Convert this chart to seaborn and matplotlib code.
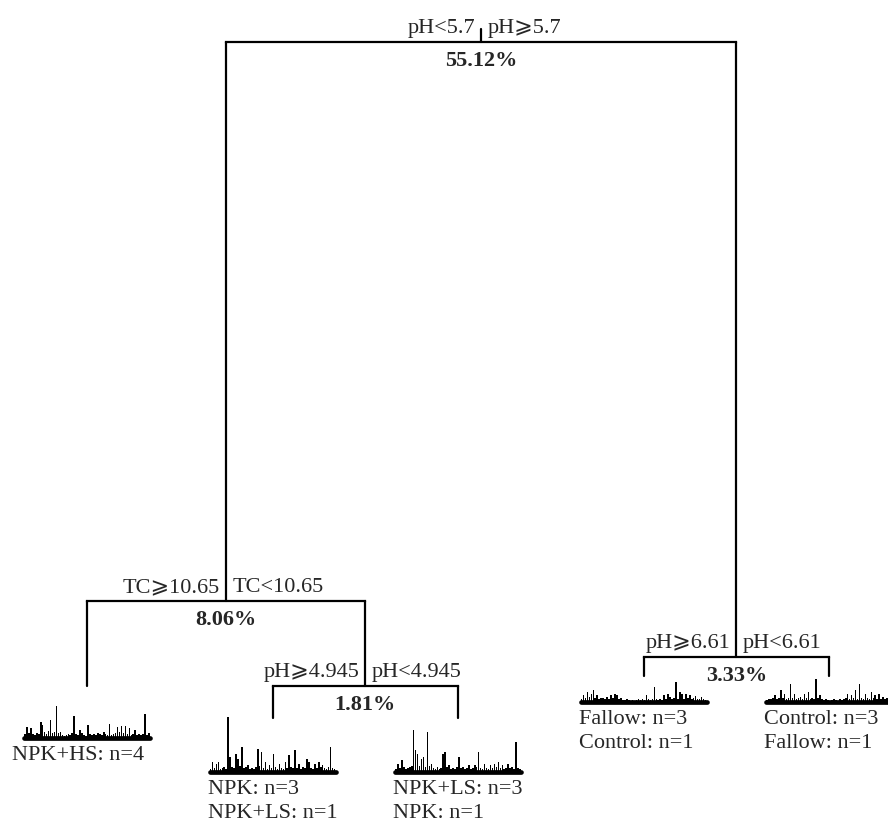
import matplotlib
matplotlib.use("Agg")
import matplotlib.pyplot as plt
import seaborn as sns
import numpy as np

# split rules (left branch / right branch) and explained variance per split
split_left = ["pH<5.7", "TC\u2A7E10.65", "pH\u2A7E4.945", "pH\u2A7E6.61"]
split_right = ["pH\u2A7E5.7", "TC<10.65", "pH<4.945", "pH<6.61"]
split_pct = [55.12, 8.06, 1.81, 3.33]
# relative error of each split node (root = 1)
node_error = [1.0, 0.2614, 0.1490, 0.1874]

# leaf labels
leaf_text = [
    ["NPK+HS: n=4"],
    ["NPK: n=3", "NPK+LS: n=1"],
    ["NPK+LS: n=3", "NPK: n=1"],
    ["Fallow: n=3", "Control: n=1"],
    ["Control: n=3", "Fallow: n=1"],
]

# species profiles under each leaf
prof_npk_hs = [4, 11, 5, 10, 4, 3, 5, 4, 16, 13, 6, 4, 7, 18, 5, 6,
               32, 5, 6, 3, 2, 3, 4, 3, 5, 22, 4, 3, 8, 5, 3, 2,
               13, 4, 3, 4, 3, 5, 4, 3, 6, 4, 3, 14, 3, 4, 5, 11,
               6, 12, 5, 12, 4, 10, 3, 4, 8, 3, 4, 3, 4, 24, 3, 5]
prof_npk = [3, 10, 4, 8, 10, 3, 4, 5, 3, 55, 15, 5, 4, 18, 13, 6,
            25, 4, 5, 7, 3, 4, 3, 5, 23, 6, 20, 4, 10, 3, 7, 4,
            18, 5, 3, 8, 4, 3, 10, 4, 17, 5, 4, 22, 4, 8, 3, 5,
            4, 13, 10, 4, 3, 8, 4, 10, 5, 7, 4, 3, 5, 25, 4, 3]
prof_npk_ls = [3, 8, 4, 12, 5, 3, 4, 5, 6, 42, 22, 18, 6, 13, 15, 5,
               40, 6, 8, 4, 3, 5, 3, 4, 18, 20, 5, 7, 3, 4, 3, 5,
               15, 4, 5, 3, 4, 7, 3, 4, 7, 5, 20, 4, 3, 8, 4, 3,
               7, 4, 8, 5, 10, 4, 7, 3, 4, 8, 4, 5, 3, 30, 4, 3]
prof_fallow = [3, 7, 4, 10, 5, 8, 12, 4, 7, 3, 4, 4, 3, 5, 3, 7,
               4, 8, 7, 3, 4, 2, 2, 3, 2, 1, 2, 1, 2, 3, 2, 3,
               2, 7, 3, 2, 3, 15, 3, 2, 3, 2, 7, 3, 8, 5, 3, 4,
               20, 3, 10, 8, 3, 8, 4, 7, 3, 4, 6, 3, 3, 5, 3, 2]
prof_control = [2, 3, 3, 4, 7, 3, 4, 12, 4, 8, 3, 4, 18, 4, 8, 3,
                4, 5, 3, 8, 4, 10, 3, 4, 3, 23, 4, 7, 3, 2, 3, 2,
                1, 2, 3, 2, 1, 3, 2, 3, 4, 8, 3, 7, 4, 12, 3, 18,
                4, 3, 8, 4, 3, 10, 4, 7, 3, 8, 3, 5, 3, 4, 4, 2]
leaf_profiles = [prof_npk_hs, prof_npk, prof_npk_ls, prof_fallow, prof_control]

# tree structure: split node -> (left child, right child); ("L", i) = leaf i
tree = {
    0: (("N", 1), ("N", 3)),
    1: (("L", 0), ("N", 2)),
    2: (("L", 1), ("L", 2)),
    3: (("L", 3), ("L", 4)),
}

# ---- layout (pixels) ----
W, H = 888, 825
leaf_x0, leaf_dx = 87, 185.5
err_base, err_scale = 798.8, 756.8
leaf_stub = [85, 32, 32, 19, 19]
leaf_base = [738, 772, 772, 702, 702]
bar_w = 126

sns.set_style("white")
plt.rcParams["font.family"] = ["Liberation Serif", "DejaVu Sans"]
FS = 16

fig = plt.figure(figsize=(W / 100, H / 100), dpi=100)
ax = fig.add_axes([0, 0, 1, 1])
ax.set_xlim(0, W)
ax.set_ylim(H, 0)
ax.set_axis_off()


def node_y(n):
    return err_base - err_scale * node_error[n]


def child_x(c):
    kind, i = c
    if kind == "L":
        return leaf_x0 + leaf_dx * i
    return node_x(i)


def node_x(n):
    a, b = tree[n]
    return (child_x(a) + child_x(b)) / 2


lw = 1.6
for n, (a, b) in tree.items():
    x, y = node_x(n), node_y(n)
    xa, xb = child_x(a), child_x(b)
    ax.plot([xa, xb], [y, y], color="black", lw=lw, solid_capstyle="projecting")
    if n == 0:
        ax.plot([x, x], [y - 13, y], color="black", lw=lw)
    for c in (a, b):
        cx = child_x(c)
        if c[0] == "N":
            ax.plot([cx, cx], [y, node_y(c[1])], color="black", lw=lw)
        else:
            ax.plot([cx, cx], [y, y + leaf_stub[c[1]]], color="black", lw=lw)
    ax.text(x - 6, y - 9, split_left[n], ha="right", va="baseline", fontsize=FS)
    ax.text(x + 6, y - 9, split_right[n], ha="left", va="baseline", fontsize=FS)
    ax.text(x, y + 9, f"{split_pct[n]:.2f}%", ha="center", va="top",
            fontsize=FS, fontweight="bold")

# leaves: spike profiles + labels
for i, prof in enumerate(leaf_profiles):
    cx = leaf_x0 + leaf_dx * i
    base = leaf_base[i]
    iax = fig.add_axes([(cx - bar_w / 2) / W, 1 - base / H, bar_w / W, 60 / H])
    sns.barplot(x=np.arange(len(prof)), y=prof, ax=iax, color="black",
                width=0.8, errorbar=None, saturation=1, linewidth=0)
    iax.set_xlim(-0.5, len(prof) - 0.5)
    iax.set_ylim(0, 60)
    iax.axhline(0.5, color="black", lw=3.4, clip_on=False)
    iax.set_axis_off()
    for k, line in enumerate(leaf_text[i]):
        x0 = cx - bar_w / 2 - 12 if i == 0 else cx - bar_w / 2 - 2
        ax.text(x0, base + 8 + 24 * k, line, ha="left", va="top", fontsize=FS)

fig.savefig("out.png", dpi=100)
